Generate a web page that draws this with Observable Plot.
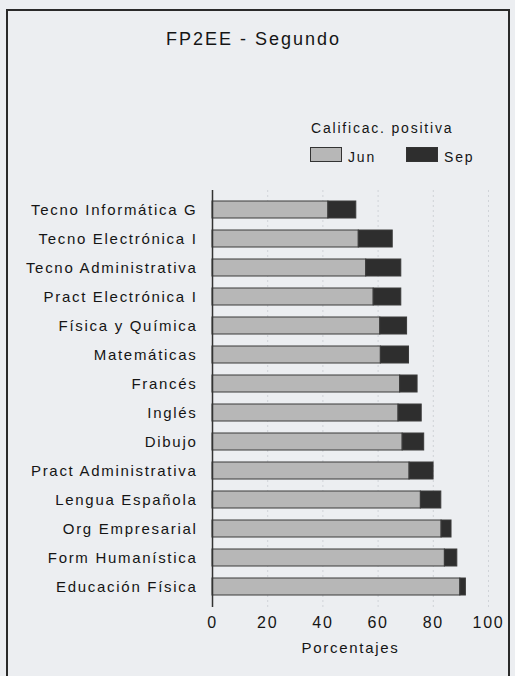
<!DOCTYPE html>
<html><head><meta charset="utf-8">
<script src="https://cdn.jsdelivr.net/npm/d3@7"></script>
<script src="https://cdn.jsdelivr.net/npm/@observablehq/plot@0.6"></script>
<style>
html,body{margin:0;padding:0;background:#eceef1;}
body{width:515px;height:676px;overflow:hidden;position:relative;font-family:"Liberation Sans",Arial,sans-serif;color:#151515;}
#frame{position:absolute;left:6px;top:9px;width:504px;height:720px;border:2px solid #2a2a2a;box-sizing:border-box;}
#title{position:absolute;left:0;width:507px;top:29px;text-align:center;font-size:18px;letter-spacing:2px;line-height:21px;}
#legtitle{position:absolute;left:311px;top:120px;font-size:14px;letter-spacing:1.8px;line-height:16px;white-space:nowrap;}
.sw{position:absolute;top:147px;width:32px;height:15px;border:1px solid #333;box-sizing:border-box;}
.lt{position:absolute;top:149px;font-size:14px;letter-spacing:1.8px;line-height:16px;}
#chart{position:absolute;left:0;top:180px;}
</style></head>
<body>
<div id="frame"></div>
<div id="title">FP2EE - Segundo</div>
<div id="legend"></div>
<div id="chart"></div>
<script>
const subjects = ["Tecno Informática G","Tecno Electrónica I","Tecno Administrativa","Pract Electrónica I","Física y Química","Matemáticas","Francés","Inglés","Dibujo","Pract Administrativa","Lengua Española","Org Empresarial","Form Humanística","Educación Física"];
const jun = [42, 53, 55.7, 58.4, 60.8, 61, 68, 67.4, 68.9, 71.4, 75.5, 83, 84.2, 89.8];
const sep = [10.1, 12.3, 12.7, 10, 9.7, 10.2, 6.3, 8.4, 7.8, 8.7, 7.4, 3.6, 4.5, 2];
const series = ["Jun", "Sep"];
const seriesColors = ["#b7b7b7", "#2e2e2e"];
const xTicks = [0, 20, 40, 60, 80, 100];
const legendTitle = "Calificac. positiva";
const xLabel = "Porcentajes";

const data = subjects.flatMap((s, i) => [
  {subject: s, serie: series[0], value: jun[i]},
  {subject: s, serie: series[1], value: sep[i]}
]);

// legend
const leg = document.getElementById("legend");
leg.innerHTML = `<div id="legtitle">${legendTitle}</div>` +
  `<div class="sw" style="left:310px;background:${seriesColors[0]}"></div><div class="lt" style="left:348px">${series[0]}</div>` +
  `<div class="sw" style="left:406px;background:${seriesColors[1]}"></div><div class="lt" style="left:444px">${series[1]}</div>`;

const chart = Plot.plot({
  width: 515, height: 500,
  marginLeft: 212, marginRight: 27, marginTop: 10, marginBottom: 73,
  style: {background: "transparent", fontFamily: "Liberation Sans, Arial, sans-serif", color: "#151515", letterSpacing: "1.7px"},
  x: {domain: [0, 100]},
  y: {domain: subjects, paddingInner: 0.41, paddingOuter: 0.3},
  color: {domain: series, range: seriesColors},
  marks: [
    Plot.ruleX(xTicks.slice(1), {stroke: "#d0d3d8", strokeDasharray: "2,3"}),
    Plot.barX(data, {x: "value", y: "subject", fill: "serie", stroke: "#3a3a3a", strokeWidth: 1}),
    Plot.ruleX([0], {stroke: "#333", strokeWidth: 1.5}),
    Plot.axisY({tickSize: 0, tickPadding: 15, fontSize: 15, label: null}),
    Plot.axisX({ticks: xTicks, tickSize: 0, tickPadding: 9, fontSize: 16, label: null, style: {letterSpacing: "2px"}}),
    Plot.text([xLabel], {frameAnchor: "bottom", dy: 45, fontSize: 15, style: {letterSpacing: "1.5px"}})
  ]
});
document.getElementById("chart").appendChild(chart);
</script>
</body></html>
